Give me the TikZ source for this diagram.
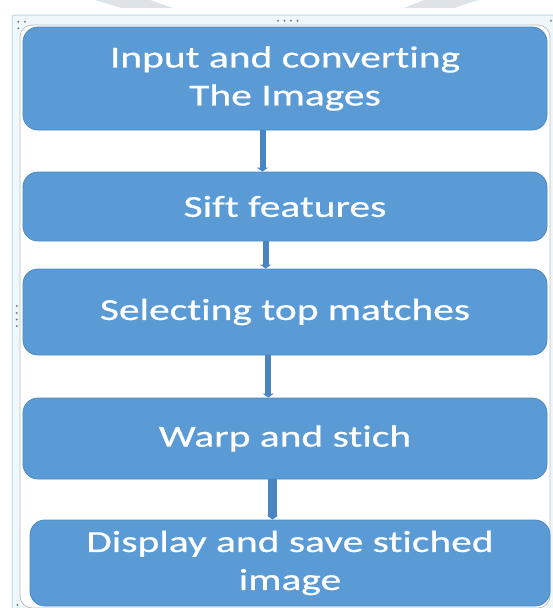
\documentclass[tikz,border=0pt]{standalone}
\usepackage{fontspec}
\usepackage{tikz}
\usetikzlibrary{positioning, arrows.meta, calc}

\newfontfamily\boxfont[FakeStretch=1.36, FakeBold=0.6, Ligatures={NoCommon}]{Carlito}

\definecolor{boxblue}{HTML}{5B9BD5}
\definecolor{boxedge}{HTML}{4F88BF}
\definecolor{arrowblue}{HTML}{4A85C1}
\definecolor{framecyan}{HTML}{B5DCE8}
\definecolor{framefill}{HTML}{EEF8FB}
\definecolor{markgray}{HTML}{DDE3E6}

\tikzset{
    stepbox/.style={draw=boxedge, fill=boxblue, line width=0.8pt,
        rounded corners=15pt, text=white, align=center, inner sep=0pt,
        font=\boxfont\fontsize{30.5}{38}\selectfont},
    flowarrow/.style={draw=arrowblue, line width=6pt,
        -{Triangle[width=11pt,length=4pt]}},
    handle/.style={fill=gray}
}

\def\tikframe{%
    % watermark
    \fill[markgray] (95,0) -- (150,0) -- (173,8) -- (122,8) -- cycle;
    \fill[markgray] (424,0) -- (478,0) -- (454,8) -- (404,8) -- cycle;

    % outer frame
    \draw[framecyan, fill=framefill, line width=1pt, rounded corners=3pt]
        (12,15) rectangle (560,612);
    \draw[lightgray, fill=white, line width=0.8pt, rounded corners=12pt]
        (20,25) rectangle (550,608);

    % handles
    \foreach \x/\y in {18.3/21.7, 25/21.7, 18.3/28.3,
                       278/20.7, 284.5/20.7, 291/20.7, 297.5/20.7,
                       551/20.7,
                       16.7/306, 16.7/313, 16.7/319.5, 16.7/326,
                       17.5/605}
    {
        \fill[handle] (\x,\y) circle (1.1);
    }
}

\begin{document}
\begin{tikzpicture}[x=1pt, y=-1pt]
    \useasboundingbox (0,0) rectangle (553,608);
    \tikframe

    % steps
    \node[stepbox, minimum width=524pt, minimum height=103pt] (b1) at (285,78.5)
        {Input and converting\\The Images};
    \node[stepbox, minimum width=524pt, minimum height=69pt] (b2) at (285,206.5)
        {Sift features};
    \node[stepbox, minimum width=524pt, minimum height=86pt] (b3) at (285,312)
        {Selecting top matches};
    \node[stepbox, minimum width=524pt, minimum height=81pt] (b4) at (285,438.5)
        {Warp and stich};
    \node[stepbox, minimum width=520pt, minimum height=86pt] (b5) at (290,563)
        {Display and save stiched\\image};

    % arrows
    \foreach \a/\b/\dx/\w in {
        b1/b2/-22.5/6,
        b2/b3/-19.3/6,
        b3/b4/-16.7/6,
        b4/b5/-12.5/8.5}
    {
        \coordinate (s\a) at ([xshift=\dx pt]\a.south);
        \draw[flowarrow, line width=\w pt] (s\a) -- (s\a |- \b.north);
    }
\end{tikzpicture}
\end{document}
